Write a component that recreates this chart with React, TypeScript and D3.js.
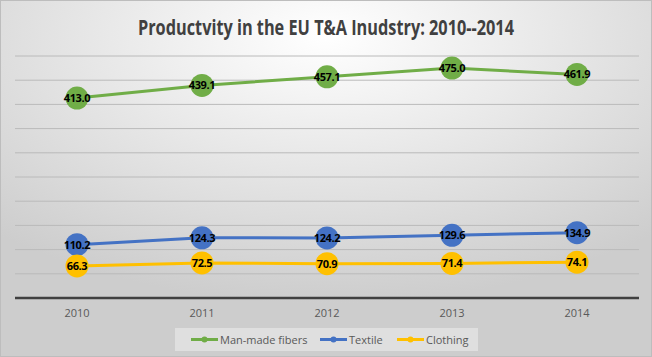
import React from "react";
import * as d3 from "d3";

const years = ["2010", "2011", "2012", "2013", "2014"];
const manMade = [413.0, 439.1, 457.1, 475.0, 461.9];
const textile = [110.2, 124.3, 124.2, 129.6, 134.9];
const clothing = [66.3, 72.5, 70.9, 71.4, 74.1];
const seriesNames = ["Man-made fibers", "Textile", "Clothing"];
const seriesColors = ["#70AD47", "#4472C4", "#FFC000"];
const yTicks = [0, 50, 100, 150, 200, 250, 300, 350, 400, 450, 500];

const W = 652;
const H = 357;
const FONT = "'Open Sans', 'Liberation Sans', sans-serif";

export default function App() {
  const x = d3.scaleBand<string>().domain(years).range([14.5, 639.5]);
  const y = d3.scaleLinear().domain([0, 500]).range([298, 56]);
  const cx = (yr: string) => (x(yr) as number) + x.bandwidth() / 2;
  const line = d3
    .line<number>()
    .x((_, i) => cx(years[i]))
    .y((v) => y(v));
  const data = [manMade, textile, clothing];
  const legendX = [191, 320, 397];

  return (
    <svg
      width={W}
      height={H}
      style={{ position: "absolute", left: 0, top: 0, display: "block" }}
    >
      <defs>
        <radialGradient id="bg" cx="0.5" cy="0.1" r="0.75" fx="0.5" fy="0.1">
          <stop offset="0" stopColor="#ffffff" />
          <stop offset="1" stopColor="#cdcdcd" />
        </radialGradient>
      </defs>
      <rect x={0} y={0} width={W} height={H} fill="url(#bg)" />
      <rect x={0.5} y={0.5} width={W - 1} height={H - 1} fill="none" stroke="#bdbdbd" />
      <text
        x={326}
        y={35}
        textAnchor="middle"
        fontFamily={FONT}
        fontWeight="bold"
        fontSize={22}
        fill="#404040"
        textLength={376}
        lengthAdjust="spacingAndGlyphs"
      >
        Productvity in the EU T&amp;A Inudstry: 2010--2014
      </text>
      {yTicks.slice(1).map((t) => (
        <line key={t} x1={15} x2={639} y1={y(t)} y2={y(t)} stroke="#bababa" strokeWidth={1} />
      ))}
      <line x1={15} x2={639} y1={y(0)} y2={y(0)} stroke="#404040" strokeWidth={2.5} />
      {years.map((yr) => (
        <text
          key={yr}
          x={cx(yr)}
          y={317}
          textAnchor="middle"
          fontFamily={FONT}
          fontSize={11}
          fill="#595959"
        >
          {yr}
        </text>
      ))}
      {data.map((vals, si) => (
        <g key={si}>
          <path d={line(vals) || ""} fill="none" stroke={seriesColors[si]} strokeWidth={3} />
          {vals.map((v, i) => (
            <circle key={i} cx={cx(years[i])} cy={y(v)} r={11.5} fill={seriesColors[si]} />
          ))}
          {vals.map((v, i) => (
            <text
              key={"t" + i}
              x={cx(years[i])}
              y={y(v) + 4}
              textAnchor="middle"
              fontFamily={FONT}
              fontSize={11}
              fontWeight="bold"
              fill="#000"
              letterSpacing={-0.4}
            >
              {v.toFixed(1)}
            </text>
          ))}
        </g>
      ))}
      <rect x={175} y={328} width={303} height={23} fill="#e4e4e4" opacity={0.8} />
      {seriesNames.map((n, i) => (
        <g key={n}>
          <line
            x1={legendX[i]}
            x2={legendX[i] + 27}
            y1={339.5}
            y2={339.5}
            stroke={seriesColors[i]}
            strokeWidth={3}
          />
          <circle cx={legendX[i] + 13.5} cy={339.5} r={3} fill={seriesColors[i]} />
          <text
            x={legendX[i] + 29}
            y={343.5}
            fontFamily={FONT}
            fontSize={11}
            fill="#595959"
          >
            {n}
          </text>
        </g>
      ))}
    </svg>
  );
}
